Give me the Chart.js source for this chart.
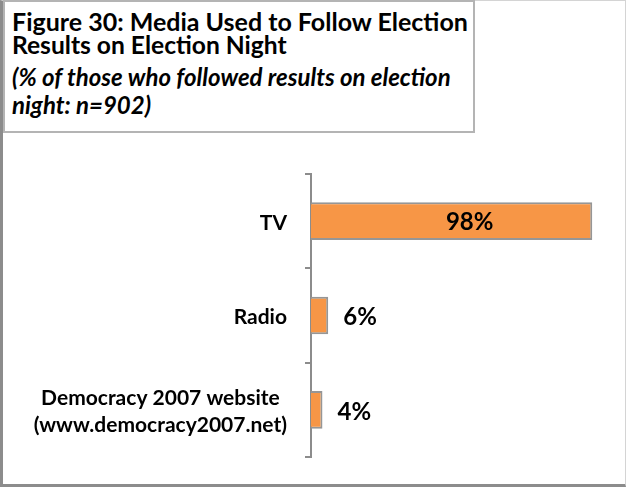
<!DOCTYPE html>
<html>
<head>
<meta charset="utf-8">
<script src="https://cdn.jsdelivr.net/npm/chart.js@4/dist/chart.umd.min.js"></script>
<style>
  html, body { margin: 0; padding: 0; background: #fff; }
  #wrap { position: relative; width: 626px; height: 487px; overflow: hidden; background: #fff; }
  #chart { position: absolute; left: 0; top: 0; }
  #frame {
    position: absolute; left: 0; top: 0; width: 626px; height: 487px; box-sizing: border-box;
    border-left: 3px solid #8c8c8c; border-bottom: 3px solid #8c8c8c;
    border-right: 1px solid #d4d4d4; border-top: 1px solid #d4d4d4;
    pointer-events: none;
  }
  #title {
    position: absolute; left: 3px; top: 0; width: 472px; height: 133px; box-sizing: border-box;
    border: 2px solid #b4b4b4; background: #fff;
    font-family: Lato, "Open Sans", sans-serif; font-weight: bold; color: #000;
  }
  #title div { position: absolute; left: 7px; white-space: nowrap; line-height: 1.2; }
  .t1 { font-size: 25px; }
  .t1b { font-size: 24.6px; }
  .t2 { font-size: 24px; font-style: italic; }
</style>
</head>
<body>
<div id="wrap">
  <canvas id="chart" width="626" height="487"></canvas>
  <div id="frame"></div>
  <div id="title">
    <div class="t1" style="top:4px">Figure 30: Media Used to Follow Election</div>
    <div class="t1b" style="top:28px">Results on Election Night</div>
    <div class="t2" style="top:61px">(% of those who followed results on election</div>
    <div class="t2" style="top:89px">night: n=902)</div>
  </div>
</div>
<script>
// Categories (top to bottom) and share of respondents, in percent
const categories = [
  ['TV'],
  ['Radio'],
  ['Democracy 2007 website', '(www.democracy2007.net)']
];
const values = [98, 6, 4];
const valueLabels = ['98%', '6%', '4%'];

const FONT = 'Lato, "Open Sans", sans-serif';

// Category names, drawn left of the axis: lines centred on each other,
// the block right-aligned against the axis
const categoryLabels = {
  id: 'categoryLabels',
  afterDraw(chart) {
    const ctx = chart.ctx;
    const y = chart.scales.y;
    const right = chart.chartArea.left - 24;
    const lineH = 27;
    ctx.save();
    ctx.font = 'bold 21px ' + FONT;
    ctx.fillStyle = '#000';
    ctx.textAlign = 'center';
    ctx.textBaseline = 'middle';
    categories.forEach((lines, i) => {
      const w = Math.max(...lines.map(l => ctx.measureText(l).width));
      const cx = right - w / 2;
      const cy = y.getPixelForValue(i);
      const y0 = cy - (lines.length - 1) * lineH / 2;
      lines.forEach((l, k) => ctx.fillText(l, cx, y0 + k * lineH + 2));
    });
    ctx.restore();
  }
};

// Value labels: inside the long bar, just past the end of short ones
const valueLabelPlugin = {
  id: 'valueLabels',
  afterDatasetsDraw(chart) {
    const ctx = chart.ctx;
    const meta = chart.getDatasetMeta(0);
    ctx.save();
    ctx.font = 'bold 24px ' + FONT;
    ctx.fillStyle = '#000';
    ctx.textBaseline = 'middle';
    meta.data.forEach((bar, i) => {
      if (values[i] > 50) {
        ctx.textAlign = 'center';
        ctx.fillText(valueLabels[i], (bar.x + bar.base) / 2 + 18, bar.y + 1);
      } else {
        ctx.textAlign = 'left';
        ctx.fillText(valueLabels[i], bar.x + 15, bar.y + 2);
      }
    });
    ctx.restore();
  }
};

new Chart(document.getElementById('chart'), {
  type: 'bar',
  data: {
    labels: categories,
    datasets: [{
      data: values,
      backgroundColor: '#F79646',
      borderColor: '#969696',
      borderWidth: 2,
      barPercentage: 0.4,
      categoryPercentage: 1.0
    }]
  },
  options: {
    indexAxis: 'y',
    responsive: false,
    animation: false,
    devicePixelRatio: 1,
    layout: { padding: { left: 305, top: 174, right: 28, bottom: 30 } },
    plugins: { legend: { display: false }, tooltip: { enabled: false } },
    scales: {
      x: { display: false, min: 0, max: 100 },
      y: {
        grid: {
          display: true, drawOnChartArea: false, drawTicks: true,
          tickLength: 6, color: '#8c8c8c', lineWidth: 2, offset: true
        },
        border: { display: true, color: '#8c8c8c', width: 2 },
        ticks: { display: false }
      }
    }
  },
  plugins: [categoryLabels, valueLabelPlugin]
});
</script>
</body>
</html>
